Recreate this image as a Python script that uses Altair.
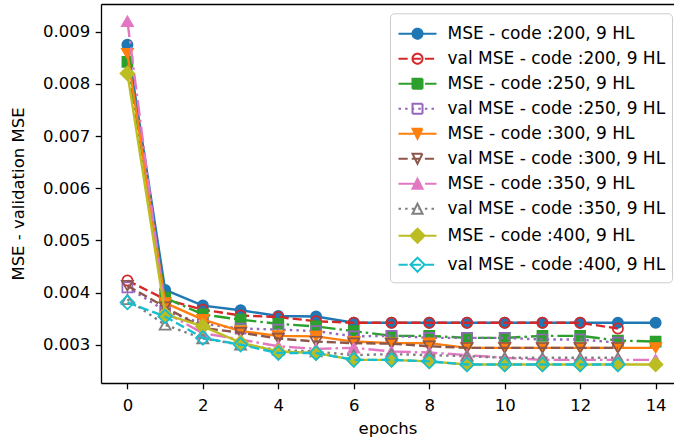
import altair as alt
import pandas as pd

# ---------------- data ----------------
epochs_mse = list(range(15))
epochs_val = list(range(14))

names = [
    "MSE - code :200, 9 HL", "val MSE - code :200, 9 HL",
    "MSE - code :250, 9 HL", "val MSE - code :250, 9 HL",
    "MSE - code :300, 9 HL", "val MSE - code :300, 9 HL",
    "MSE - code :350, 9 HL", "val MSE - code :350, 9 HL",
    "MSE - code :400, 9 HL", "val MSE - code :400, 9 HL",
]

mse_200 = [0.00875, 0.00405, 0.00375, 0.00366, 0.00355, 0.00354, 0.00342, 0.00342, 0.00342,
           0.00342, 0.00342, 0.00342, 0.00342, 0.00342, 0.00342]
val_200 = [0.00423, 0.00387, 0.00367, 0.00356, 0.00353, 0.00345, 0.00342, 0.00342, 0.00342,
           0.00342, 0.00342, 0.00342, 0.00342, 0.00331]
mse_250 = [0.00842, 0.00390, 0.00358, 0.00348, 0.00340, 0.00335, 0.00326, 0.00317, 0.00317,
           0.00313, 0.00313, 0.00317, 0.00317, 0.00308, 0.00306]
val_250 = [0.00410, 0.00365, 0.00340, 0.00331, 0.00329, 0.00326, 0.00316, 0.00317, 0.00313,
           0.00313, 0.00313, 0.00310, 0.00310, 0.00304]
mse_300 = [0.00858, 0.00380, 0.00348, 0.00326, 0.00317, 0.00316, 0.00306, 0.00303, 0.00303,
           0.00294, 0.00294, 0.00294, 0.00294, 0.00294, 0.00294]
val_300 = [0.00413, 0.00372, 0.00332, 0.00323, 0.00312, 0.00306, 0.00303, 0.00302, 0.00297,
           0.00294, 0.00294, 0.00294, 0.00294, 0.00294]
mse_350 = [0.00920, 0.00362, 0.00322, 0.00310, 0.00297, 0.00292, 0.00294, 0.00287, 0.00285,
           0.00280, 0.00275, 0.00271, 0.00271, 0.00271, 0.00271]
val_350 = [0.00387, 0.00338, 0.00312, 0.00300, 0.00290, 0.00287, 0.00280, 0.00282, 0.00280,
           0.00278, 0.00275, 0.00275, 0.00275, 0.00275]
mse_400 = [0.00820, 0.00358, 0.00335, 0.00304, 0.00287, 0.00284, 0.00271, 0.00271, 0.00268,
           0.00262, 0.00262, 0.00262, 0.00262, 0.00262, 0.00262]
val_400 = [0.00381, 0.00354, 0.00313, 0.00300, 0.00284, 0.00284, 0.00271, 0.00271, 0.00268,
           0.00262, 0.00262, 0.00262, 0.00262, 0.00262]

series_values = [mse_200, val_200, mse_250, val_250, mse_300, val_300,
                 mse_350, val_350, mse_400, val_400]

x_ticks = [0, 2, 4, 6, 8, 10, 12, 14]
y_ticks = [0.003, 0.004, 0.005, 0.006, 0.007, 0.008, 0.009]

# ---------------- styles ----------------
colors = ["#1f77b4", "#d62728", "#2ca02c", "#9467bd", "#ff7f0e",
          "#8c564b", "#e377c2", "#7f7f7f", "#bcbd22", "#17becf"]
line_styles = ["solid", "dashed", "dashdot", "dotted", "solid",
               "dashed", "dashdot", "dotted", "solid", "dashed"]
marker_shapes = ["circle", "circle", "square", "square", "triangle-down",
                 "triangle-down", "triangle-up", "triangle-up", "diamond", "diamond"]
marker_filled = [True, False, True, False, True, False, True, False, True, False]

LW = 2.4
DASH = {"solid": None, "dashed": [9.2, 4.0], "dashdot": [16.0, 4.0, 2.5, 4.0], "dotted": [2.5, 4.1]}
MSIZE = {"circle": 105, "square": 100, "triangle-down": 125, "triangle-up": 125, "diamond": 190}

rows = []
for name, vals in zip(names, series_values):
    for e, v in enumerate(vals):
        rows.append({"series": name, "epoch": e, "value": v})
df = pd.DataFrame(rows)

X_DOMAIN = [-0.7, 14.487]
Y_DOMAIN = [0.002266, 0.009530]
FONT = "DejaVu Sans"
FS = 16.5

# ------------- legend symbols (line handle + marker) -------------
UNIT = 5.0       # symbolSize 100 -> 1 unit = 5 px
HANDLE = 38.0    # px


def seg_path(style):
    if DASH[style] is None:
        return f"M{-HANDLE/2/UNIT:.3f},0L{HANDLE/2/UNIT:.3f},0"
    pat = DASH[style]
    out, pos, on, i = [], 0.0, True, 0
    while pos < HANDLE:
        ln = pat[i % len(pat)]
        end = min(pos + ln, HANDLE)
        if on:
            out.append(f"M{(pos-HANDLE/2)/UNIT:.3f},0L{(end-HANDLE/2)/UNIT:.3f},0")
        pos, on, i = end, not on, i + 1
    return "".join(out)


MARK_PATH = {
    "circle": "M-1,0A1,1 0 1,0 1,0A1,1 0 1,0 -1,0Z",
    "square": "M-1,-1L1,-1L1,1L-1,1Z",
    "triangle-down": "M-1,-1L1,-1L0,1Z",
    "triangle-up": "M0,-1L1,1L-1,1Z",
    "diamond": "M-1.414,0L0,-1.414L1.414,0L0,1.414Z",
}

legend_paths = [seg_path(st) + MARK_PATH[sh] for st, sh in zip(line_styles, marker_shapes)]
legend_fills = [c if f else "transparent" for c, f in zip(colors, marker_filled)]


def js_list(lst):
    return "[" + ",".join("'" + s + "'" for s in lst) + "]"


idx = f"indexof({js_list(names)}, datum.value)"

legend = alt.Legend(
    title=" ", titleFontSize=1, titlePadding=4.4,
    orient="none", legendX=289, legendY=9.3, padding=6.5,
    fillColor="rgba(255,255,255,0.8)", strokeColor="#cccccc", cornerRadius=4,
    labelFont=FONT, labelFontSize=17, labelColor="black", labelLimit=0,
    symbolSize=100, symbolOffset=12.5, labelOffset=21.5, rowPadding=6,
    symbolType={"expr": f"{js_list(legend_paths)}[{idx}]"},
    symbolFillColor={"expr": f"{js_list(legend_fills)}[{idx}]"},
    symbolStrokeColor={"expr": f"{js_list(colors)}[{idx}]"},
    symbolStrokeWidth=2, symbolDash=[1, 0], symbolOpacity=1,
)

x_bottom = alt.X("epoch:Q", scale=alt.Scale(domain=X_DOMAIN, nice=False, zero=False),
                 axis=alt.Axis(values=x_ticks, format="d", title="epochs"))
x_top = alt.X("epoch:Q", scale=alt.Scale(domain=X_DOMAIN, nice=False, zero=False),
              axis=alt.Axis(orient="top", labels=False, ticks=False, title=None, domain=True))
x_none = alt.X("epoch:Q", scale=alt.Scale(domain=X_DOMAIN, nice=False, zero=False), axis=None)
y_enc = alt.Y("value:Q", scale=alt.Scale(domain=Y_DOMAIN, nice=False, zero=False),
              axis=alt.Axis(values=y_ticks, format=".3f", title="MSE - validation MSE"))

layers = []
for i, name in enumerate(names):
    base = alt.Chart(df).transform_filter(alt.datum.series == name)
    line_kw = dict(strokeWidth=LW, clip=True)
    if DASH[line_styles[i]] is not None:
        line_kw["strokeDash"] = DASH[line_styles[i]]
    if i == 0:
        line = base.mark_line(**line_kw).encode(
            x=x_bottom, y=y_enc,
            color=alt.Color("series:N", scale=alt.Scale(domain=names, range=colors), legend=legend),
        )
    else:
        line = base.mark_line(color=colors[i], **line_kw).encode(x=x_none, y=y_enc)
    pt_kw = dict(shape=marker_shapes[i], size=MSIZE[marker_shapes[i]], strokeWidth=1.7,
                 opacity=1, clip=True, stroke=colors[i])
    if marker_filled[i]:
        pt_kw["fill"] = colors[i]
        pt_kw["filled"] = True
    else:
        pt_kw["fill"] = "transparent"
        pt_kw["filled"] = False
    pts = base.mark_point(**pt_kw).encode(x=(x_top if i == 0 else x_none), y=y_enc)
    layers += [line, pts]

chart = alt.layer(*layers).resolve_axis(x="independent").properties(
    width=573, height=379,
    padding={"left": 101, "top": 4, "right": 0, "bottom": 59},
    autosize=alt.AutoSizeParams(type="none"),
).configure_view(stroke=None).configure_axis(
    grid=False, domainColor="black", domainWidth=1.3, tickColor="black", tickWidth=1.3,
    tickSize=5.8, labelPadding=5.5, labelFont=FONT, labelFontSize=FS, labelColor="black",
    titleFont=FONT, titleFontSize=FS, titleFontWeight="normal", titleColor="black",
).configure_axisY(titlePadding=16).configure_axisX(titlePadding=7, labelPadding=8.5)

chart.save("out.html", embed_options={"renderer": "svg", "actions": False})
